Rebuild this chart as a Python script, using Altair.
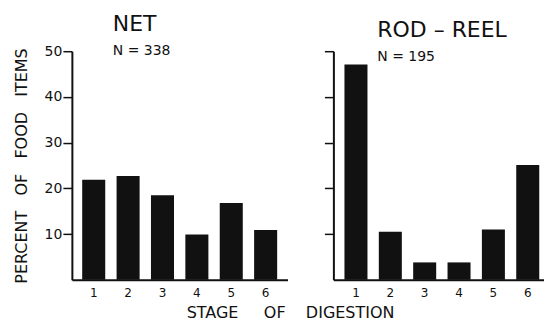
import altair as alt
import pandas as pd

stages = ["1", "2", "3", "4", "5", "6"]
net_pct = [21.9, 22.7, 18.5, 9.9, 16.8, 10.9]
rod_pct = [47.1, 10.5, 3.8, 3.8, 11.0, 25.1]
y_ticks = [10, 20, 30, 40, 50]

FONT = "DejaVu Sans"
INK = "#111111"
NB = "\u00a0"

net_df = pd.DataFrame({"stage": stages, "pct": net_pct})
rod_df = pd.DataFrame({"stage": stages, "pct": rod_pct})

yscale = alt.Scale(domain=[0, 50])


def panel(df, title, sub, dx, left):
    if left:
        xscale = alt.Scale(paddingInner=0.33, paddingOuter=0.3)
        yaxis = alt.Axis(values=y_ticks,
                         title=f"PERCENT{NB*3}OF{NB*3}FOOD{NB*3}ITEMS",
                         titlePadding=15)
        w = 216
    else:
        xscale = alt.Scale(paddingInner=0.33, paddingOuter=0.23, align=0.7)
        yaxis = alt.Axis(values=y_ticks, labels=False, title=None)
        w = 211
    xaxis = alt.Axis(labelAngle=0, ticks=False, title=None)
    return alt.Chart(df).mark_bar(color=INK).encode(
        x=alt.X("stage:O", scale=xscale, axis=xaxis, sort=stages),
        y=alt.Y("pct:Q", scale=yscale, axis=yaxis),
    ).properties(
        width=w, height=229,
        title=alt.TitleParams(text=title, subtitle=sub, anchor="start", frame="group",
                              dx=dx, offset=-15, fontSize=22, fontWeight="normal",
                              subtitleFontSize=14, subtitlePadding=8,
                              font=FONT, subtitleFont=FONT, color=INK, subtitleColor=INK),
    )


left = panel(net_df, "NET", "N = 338", 41, True)
right = panel(rod_df, "ROD – REEL", "N = 195", 44, False)

chart = alt.hconcat(
    left, right, spacing=36,
    title=alt.TitleParams(text=f"STAGE{NB*5}OF{NB*4}DIGESTION", orient="bottom",
                          anchor="middle", fontSize=16, fontWeight="normal",
                          font=FONT, color=INK, offset=6, dx=12),
    padding={"left": 5, "top": 5, "right": 0, "bottom": 0},
).configure_view(stroke=None).configure_axis(
    grid=False, domainColor=INK, domainWidth=2, tickColor=INK, tickWidth=1.5, tickSize=9,
    labelFont=FONT, titleFont=FONT, labelColor=INK, titleColor=INK,
    titleFontWeight="normal", titleFontSize=16, labelPadding=1,
).configure_axisX(labelFontSize=12, labelPadding=8).configure_axisY(
    labelFontSize=14
)

chart.save("out.html", embed_options={"renderer": "svg", "actions": False})
